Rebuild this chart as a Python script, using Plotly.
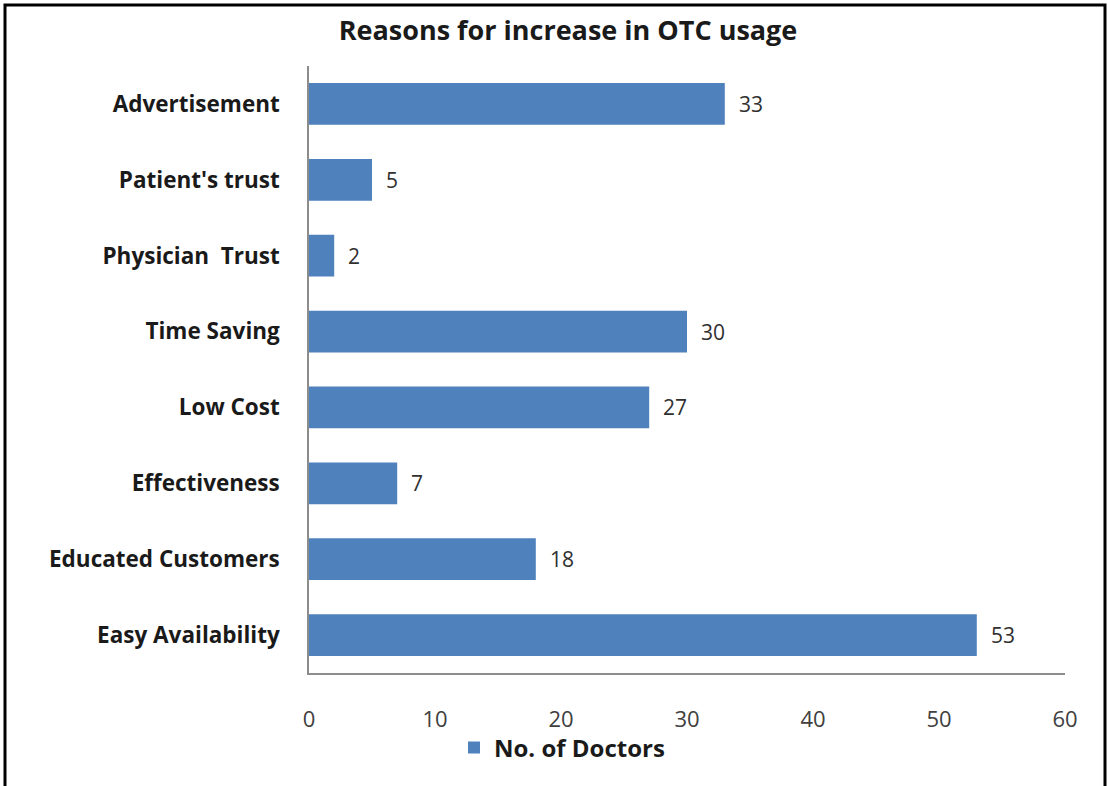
import plotly.graph_objects as go

categories = ["Advertisement", "Patient's trust", "Physician  Trust", "Time Saving",
              "Low Cost", "Effectiveness", "Educated Customers", "Easy Availability"]
values = [33, 5, 2, 30, 27, 7, 18, 53]
series_name = "No. of Doctors"
title_text = "Reasons for increase in OTC usage"
x_ticks = [0, 10, 20, 30, 40, 50, 60]

FONT = "Open Sans"
W, H = 1108, 786
L, R, T, B = 309, 43, 66, 113
pw, ph = W - L - R, H - T - B

def px_to_paper_x(px):
    return (px - L) / pw

def px_to_paper_y(py):
    return (H - B - py) / ph

fig = go.Figure()
fig.add_trace(go.Bar(
    x=values, y=categories, orientation="h", name=series_name,
    marker=dict(color="#4F81BD", line=dict(width=0)),
    showlegend=True,
))

for c, v in zip(categories, values):
    fig.add_annotation(x=v, y=c, text=str(v), showarrow=False, xanchor="left",
                       xshift=12, font=dict(family=FONT, size=21, color="#303030"))

fig.add_shape(type="rect", xref="paper", yref="paper",
              x0=px_to_paper_x(5), x1=px_to_paper_x(1105),
              y0=px_to_paper_y(800), y1=px_to_paper_y(5),
              line=dict(color="black", width=3), fillcolor="rgba(0,0,0,0)", layer="above")

fig.update_layout(
    width=W, height=H,
    margin=dict(l=L, r=R, t=T, b=B),
    paper_bgcolor="white", plot_bgcolor="white",
    bargap=0.45,
    title=dict(text="<b>" + title_text + "</b>", x=px_to_paper_x(568), xref="paper",
               xanchor="center", y=1 - 31 / H, yanchor="middle",
               font=dict(family=FONT, size=27, color="#1a1a1a")),
    xaxis=dict(range=[0, 60], tickvals=x_ticks, showgrid=False, zeroline=False,
               showline=True, linecolor="#8c8c8c", linewidth=1.5, ticks="",
               ticklabelstandoff=26,
               tickfont=dict(family=FONT, size=22, color="#404040")),
    yaxis=dict(autorange="reversed", showgrid=False, zeroline=False,
               showline=True, linecolor="#8c8c8c", linewidth=1.5, ticks="",
               ticklabelstandoff=23,
               tickfont=dict(family=FONT, size=22.5, color="#1a1a1a", weight="bold")),
    legend=dict(orientation="h", x=px_to_paper_x(562), xanchor="center",
                y=px_to_paper_y(748), yanchor="middle",
                font=dict(family=FONT, size=24, color="#1a1a1a", weight="bold"),
                itemwidth=30, bgcolor="rgba(0,0,0,0)"),
)

fig.write_html("out.html", config={"displayModeBar": False},
               post_script="document.body.style.margin='0';")
